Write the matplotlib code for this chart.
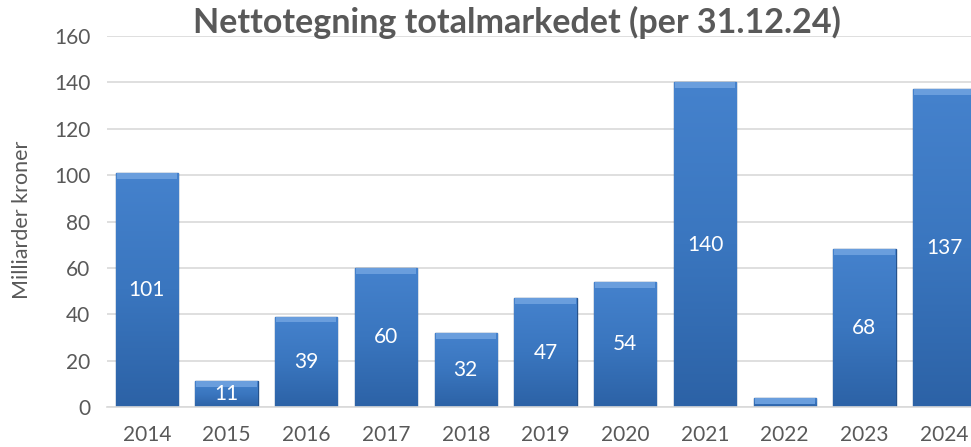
import matplotlib.pyplot as plt
import numpy as np
from matplotlib.colors import LinearSegmentedColormap

years = ["2014", "2015", "2016", "2017", "2018", "2019", "2020", "2021", "2022", "2023", "2024"]
values = [101, 11, 39, 60, 32, 47, 54, 140, 4, 68, 137]
labels = ["101", "11", "39", "60", "32", "47", "54", "140", "", "68", "137"]

plt.rcParams['font.family'] = ['Lato', 'DejaVu Sans']

fig = plt.figure(figsize=(9.71, 4.47), dpi=100)
ax = fig.add_axes([107 / 971, 1 - 407 / 447, 877 / 971, 371 / 447])

x = np.arange(len(years))
bar_width = 0.78
bars = ax.bar(x, values, bar_width, color="#3a76bd", edgecolor="#25528c", linewidth=1.0, zorder=2)

# vertical gradient inside each bar
cmap = LinearSegmentedColormap.from_list("blues", ["#2c62a6", "#3a76bf", "#4582cd"])
grad = np.linspace(0, 1, 256).reshape(-1, 1)
for bar in bars:
    x0, y0 = bar.get_x(), bar.get_y()
    w, h = bar.get_width(), bar.get_height()
    im = ax.imshow(grad, cmap=cmap, aspect="auto", origin="lower",
                   extent=[x0, x0 + w, y0, y0 + h], zorder=2.5)
    im.set_clip_path(bar)
    # lighter bevel at the top
    bevel = min(h, 2.5)
    ax.bar(x0 + w / 2, bevel, w * 0.97, bottom=h - bevel,
           color="#6a9edd", linewidth=0, zorder=2.6)

for xi, v, lab in zip(x, values, labels):
    if lab:
        ax.text(xi, v / 2, lab, ha="center", va="center", color="white", fontsize=15, zorder=3)

ax.set_xlim(-0.5, len(years) - 0.5)
ax.set_ylim(0, 160)
ax.set_yticks(np.arange(0, 161, 20))
ax.set_xticks(x, years)
ax.yaxis.grid(True, color="#d9d9d9", linewidth=1.2, zorder=0)
ax.set_axisbelow(True)
for side in ["top", "right", "left"]:
    ax.spines[side].set_visible(False)
ax.spines["bottom"].set_color("#d9d9d9")
ax.spines["bottom"].set_linewidth(1.2)
ax.tick_params(axis="both", length=0, labelsize=15, colors="#595959")
ax.tick_params(axis="x", pad=13)
ax.tick_params(axis="y", pad=12)

fig.text(22 / 971, 1 - 220 / 447, "Milliarder kroner", rotation=90, ha="center", va="center",
         fontsize=15.5, color="#595959")
fig.text(517 / 971, 1 - 22 / 447, "Nettotegning totalmarkedet (per 31.12.24)", ha="center", va="center",
         fontsize=24.5, fontweight="bold", color="#595959")

fig.savefig("out.png", dpi=100)
